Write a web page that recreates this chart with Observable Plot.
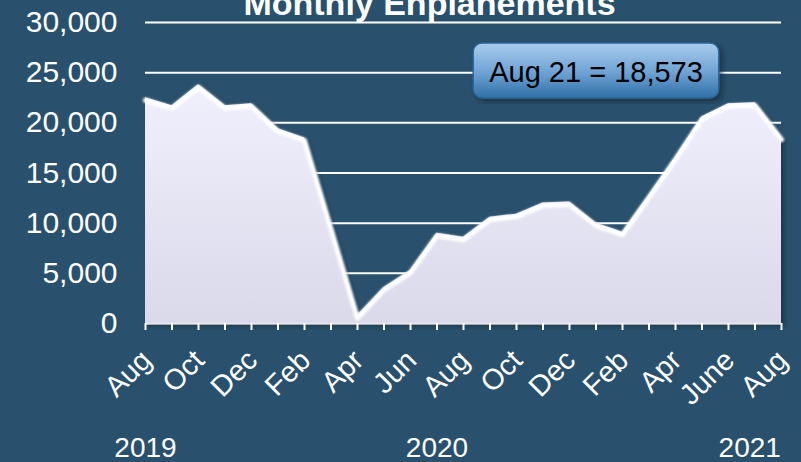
<!DOCTYPE html>
<html><head><meta charset="utf-8">
<script src="https://cdn.jsdelivr.net/npm/d3@7"></script>
<script src="https://cdn.jsdelivr.net/npm/@observablehq/plot@0.6"></script>
<style>
html,body{margin:0;padding:0;background:#29506c;}
#chart{width:801px;height:462px;overflow:hidden;}
</style></head><body><div id="chart"></div>
<script>
// ---- data ----
const months = ["Aug","Sep","Oct","Nov","Dec","Jan","Feb","Mar","Apr","May","Jun","Jul","Aug","Sep","Oct","Nov","Dec","Jan","Feb","Mar","Apr","May","June","Jul","Aug"];
const enplanements = [22500,21700,23800,21700,21900,19400,18500,9700,800,3600,5300,9000,8600,10600,10900,12000,12100,10000,9100,12800,16600,20600,21900,22000,18573];
const labelledMonths = [0,2,4,6,8,10,12,14,16,18,20,22,24];
const years = ["2019","2020","2021"];
const yearPos = [0,11,22.8];
const yTicks = [0,5000,10000,15000,20000,25000,30000];
const title = "Monthly Enplanements";
const callout = "Aug 21 = 18,573";
const calloutPos = {x:17, y:25000};

const data = months.map((m,i)=>({i, month:m, value:enplanements[i]}));
const font = "'Liberation Sans', Arial, sans-serif";

const plot = Plot.plot({
  width:801, height:462,
  marginLeft:145, marginRight:20, marginTop:22, marginBottom:139,
  style:{background:"#29506c", color:"white", fontFamily:font, overflow:"visible"},
  x:{type:"linear", domain:[0,24], axis:null},
  y:{domain:[0,30000], axis:null},
  marks:[
    Plot.gridY(yTicks, {stroke:"white", strokeOpacity:1, strokeWidth:2}),
    Plot.areaY(data, {x:"i", y:"value", fill:"url(#areaGrad)", className:"main-area"}),
    Plot.lineY(data, {x:"i", y:"value", stroke:"white", strokeWidth:5, dy:2.5, strokeLinejoin:"round", className:"bevel"}),
    Plot.axisY(yTicks, {tickSize:0, tickPadding:28, tickFormat:d3.format(","), fontSize:30, fill:"white", label:null}),
    Plot.ruleY([0], {stroke:"#e4e4ee", strokeWidth:2}),
    Plot.axisX(d3.range(25), {tickSize:7, tickFormat:()=>"", stroke:"white", strokeWidth:2, label:null}),
    Plot.text(labelledMonths, {x:d=>d, y:0, text:d=>months[d], rotate:-45, textAnchor:"end", fontSize:29, fill:"white", dx:1, dy:32}),
    Plot.text(years, {x:(d,i)=>yearPos[i], y:0, text:d=>d, fontSize:28, fill:"white", dy:125}),
    Plot.text([title], {frameAnchor:"top", text:d=>d, fontSize:34, fontWeight:"bold", fill:"white", lineAnchor:"bottom", dx:-34, dy:-8}),
    Plot.text([callout], {x:calloutPos.x, y:calloutPos.y, text:d=>d, fontSize:29, fill:"black", className:"callout"})
  ]
});
document.getElementById("chart").appendChild(plot);

const svg = d3.select(plot);
const defs = svg.insert("defs", ":first-child");
const ag = defs.append("linearGradient").attr("id","areaGrad").attr("x1",0).attr("y1",0).attr("x2",0).attr("y2",1);
ag.append("stop").attr("offset","0%").attr("stop-color","#f0f0fd");
ag.append("stop").attr("offset","100%").attr("stop-color","#d9d9ea");
const bg = defs.append("linearGradient").attr("id","boxGrad").attr("x1",0).attr("y1",0).attr("x2",0).attr("y2",1);
bg.append("stop").attr("offset","0%").attr("stop-color","#aacdee");
bg.append("stop").attr("offset","55%").attr("stop-color","#6da1d2");
bg.append("stop").attr("offset","100%").attr("stop-color","#2f70a6");
const f = defs.append("filter").attr("id","shadow").attr("x","-5%").attr("y","-5%").attr("width","115%").attr("height","115%");
f.append("feDropShadow").attr("dx",3).attr("dy",3).attr("stdDeviation",2).attr("flood-color","#0a1a28").attr("flood-opacity",0.55);
const fb = defs.append("filter").attr("id","soft");
fb.append("feGaussianBlur").attr("stdDeviation",0.8);
svg.select(".main-area").attr("filter","url(#shadow)");
svg.select(".bevel").attr("filter","url(#soft)");

// callout box sized from the label
const ct = svg.select(".callout");
const tb = ct.select("text").node().getBoundingClientRect();
const sb = plot.getBoundingClientRect();
const cx = tb.left - sb.left, cy = tb.top - sb.top + tb.height/2;
svg.insert("rect", ".callout")
  .attr("x", cx - 16).attr("y", cy - 29).attr("width", tb.width + 32).attr("height", 55)
  .attr("rx", 9).attr("fill","url(#boxGrad)").attr("stroke","#2a6496").attr("stroke-width",1.5)
  .attr("filter","url(#shadow)");
</script></body></html>
